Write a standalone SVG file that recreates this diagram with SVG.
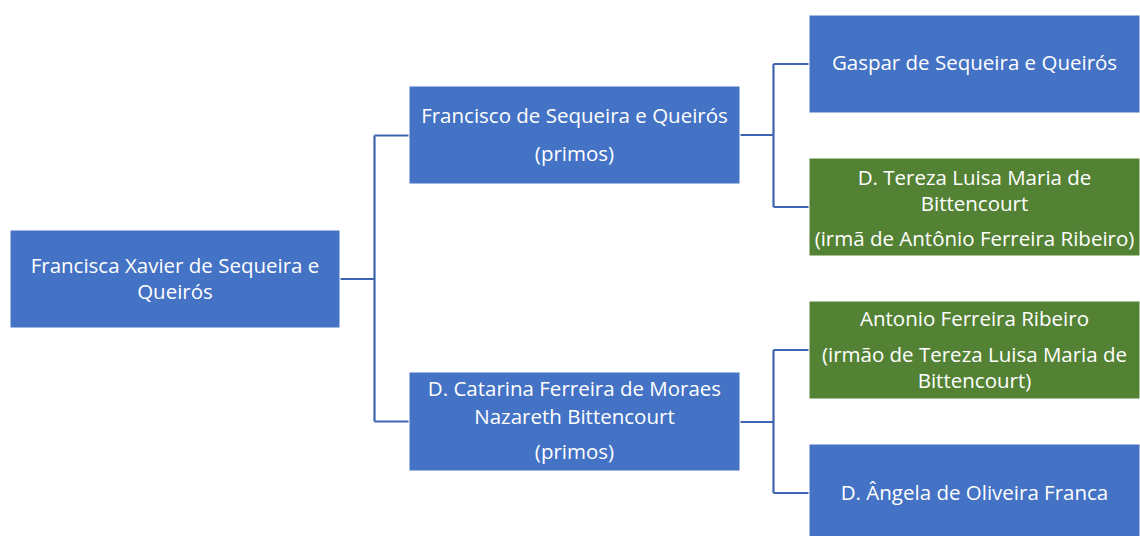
<svg xmlns="http://www.w3.org/2000/svg" width="1140" height="536" viewBox="0 0 1140 536">
<style>
.box rect{stroke:#ffffff;stroke-width:1}
.blue rect{fill:#4472C4}
.green rect{fill:#548235}
text{font-family:"Open Sans","Noto Sans",sans-serif;font-size:20.5px;fill:#ffffff;text-anchor:middle}
#connectors path{fill:none;stroke:#3F65B0;stroke-width:2.2}
</style>
<rect width="1140" height="536" fill="#ffffff"/>
<g id="connectors">
<path d="M340,279 H374.5 M374.5,135.5 V421.5 M374.5,135.5 H409 M374.5,421.5 H409"/>
<path d="M740,135 H773.5 M773.5,64 V207 M773.5,64 H809 M773.5,207 H809"/>
<path d="M740,422 H773.5 M773.5,350 V493 M773.5,350 H809 M773.5,493 H809"/>
</g>
<g id="root" class="box blue">
<rect x="10" y="230" width="330" height="98"/>
<text x="175" y="273">Francisca Xavier de Sequeira e</text>
<text x="175" y="299">Queirós</text>
</g>
<g id="francisco" class="box blue">
<rect x="409" y="86" width="331" height="98"/>
<text x="574.5" y="123">Francisco de Sequeira e Queirós</text>
<text x="574.5" y="161">(primos)</text>
</g>
<g id="catarina" class="box blue">
<rect x="409" y="372" width="331" height="99"/>
<text x="574.5" y="396">D. Catarina Ferreira de Moraes</text>
<text x="574.5" y="424">Nazareth Bittencourt</text>
<text x="574.5" y="459">(primos)</text>
</g>
<g id="gaspar" class="box blue">
<rect x="809" y="15" width="331" height="98"/>
<text x="974.5" y="70">Gaspar de Sequeira e Queirós</text>
</g>
<g id="tereza" class="box green">
<rect x="809" y="158" width="331" height="98"/>
<text x="974.5" y="185">D. Tereza Luisa Maria de</text>
<text x="974.5" y="211">Bittencourt</text>
<text x="974.5" y="246">(irmã de Antônio Ferreira Ribeiro)</text>
</g>
<g id="antonio" class="box green">
<rect x="809" y="301" width="331" height="98"/>
<text x="974.5" y="326">Antonio Ferreira Ribeiro</text>
<text x="974.5" y="362">(irmão de Tereza Luisa Maria de</text>
<text x="974.5" y="388">Bittencourt)</text>
</g>
<g id="angela" class="box blue">
<rect x="809" y="444" width="331" height="98"/>
<text x="974.5" y="500">D. Ângela de Oliveira Franca</text>
</g>
</svg>
